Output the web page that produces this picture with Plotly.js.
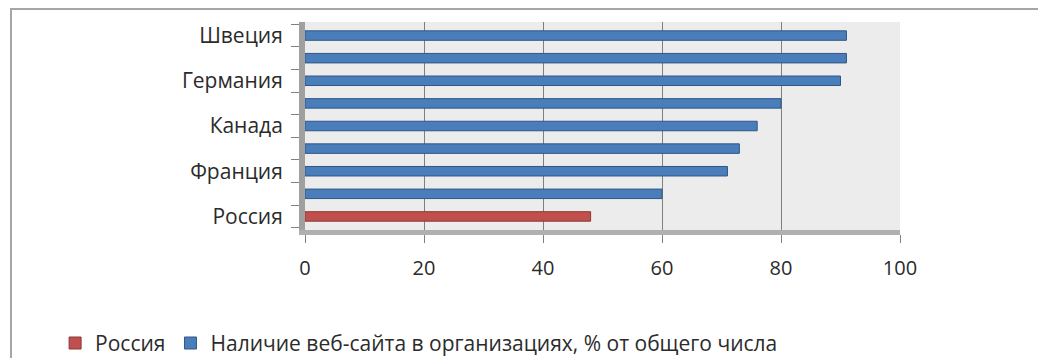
<!DOCTYPE html>
<html>
<head>
<meta charset="utf-8">
<script src="https://cdn.plot.ly/plotly-3.0.1.min.js"></script>
<style>
  html, body { margin: 0; padding: 0; background: #fff; }
  #wrap { position: relative; width: 1038px; height: 358px; overflow: hidden; }
  #chart { position: absolute; left: 0; top: 0; width: 1038px; height: 358px; }
  #frame { position: absolute; left: 10px; top: 8px; width: 1100px; height: 400px;
           border-left: 2px solid #a6a6a6; border-top: 2px solid #a6a6a6; pointer-events: none; }
</style>
</head>
<body>
<div id="wrap">
  <div id="chart"></div>
  <div id="frame"></div>
</div>
<script>
// Category positions (bottom to top) and their values
const russiaPos = [0];
const russiaValues = [48];
const otherPos = [1, 2, 3, 4, 5, 6, 7, 8];
const otherValues = [60, 71, 73, 76, 80, 90, 91, 91];

// Only every other category label is shown in the reference
const labelPos = [0, 2, 4, 6, 8];
const labels = ["Россия", "Франция", "Канада", "Германия", "Швеция"];

const seriesNames = ["Россия", "Наличие веб-сайта в организациях, % от общего числа"];
const xTicks = [0, 20, 40, 60, 80, 100];

const font = "'Open Sans', 'Noto Sans', sans-serif";
const txt = "#2b2b2b";

const data = [
  {
    type: "bar", orientation: "h",
    name: seriesNames[0],
    x: russiaValues, y: russiaPos,
    width: 0.42,
    marker: { color: "#c0504d", line: { color: "#8c3836", width: 1 } },
    hoverinfo: "x"
  },
  {
    type: "bar", orientation: "h",
    name: seriesNames[1],
    x: otherValues, y: otherPos,
    width: 0.42,
    marker: { color: "#4a7ebb", line: { color: "#2f5687", width: 1 } },
    hoverinfo: "x"
  }
];

const layout = {
  width: 1038, height: 358,
  margin: { l: 305, r: 138, t: 22, b: 128, autoexpand: false },
  paper_bgcolor: "#ffffff",
  plot_bgcolor: "#ececec",
  barmode: "overlay",
  showlegend: true,
  font: { family: font, size: 21, color: txt },
  xaxis: {
    range: [0, 100],
    tickvals: xTicks,
    ticktext: xTicks.map(String),
    showgrid: true, gridcolor: "#7f7f7f", gridwidth: 1,
    zeroline: false,
    showline: true, linecolor: "#b0b0b0", linewidth: 5,
    ticks: "outside", ticklen: 8, tickcolor: "#808080",
    ticklabelstandoff: 8,
    automargin: false,
    tickfont: { family: font, size: 20, color: txt },
    fixedrange: true
  },
  yaxis: {
    range: [-0.6, 8.6],
    tickmode: "array",
    tickvals: labelPos,
    ticktext: labels,
    ticks: "",
    showgrid: false, zeroline: false,
    showline: true, linecolor: "#a0a0a0", linewidth: 6,
    ticklabelstandoff: 12,
    automargin: false,
    minor: { tick0: 0.5, dtick: 1, ticks: "outside", ticklen: 8, tickcolor: "#808080", showgrid: false },
    tickfont: { family: font, size: 21, color: txt },
    fixedrange: true
  },
  legend: {
    orientation: "h",
    x: -0.42, xanchor: "left",
    y: -0.545, yanchor: "middle",
    font: { family: font, size: 21, color: txt },
    itemwidth: 30,
    tracegroupgap: 0,
    bgcolor: "rgba(0,0,0,0)"
  }
};

Plotly.newPlot("chart", data, layout, { displayModeBar: false, staticPlot: true });
</script>
</body>
</html>
